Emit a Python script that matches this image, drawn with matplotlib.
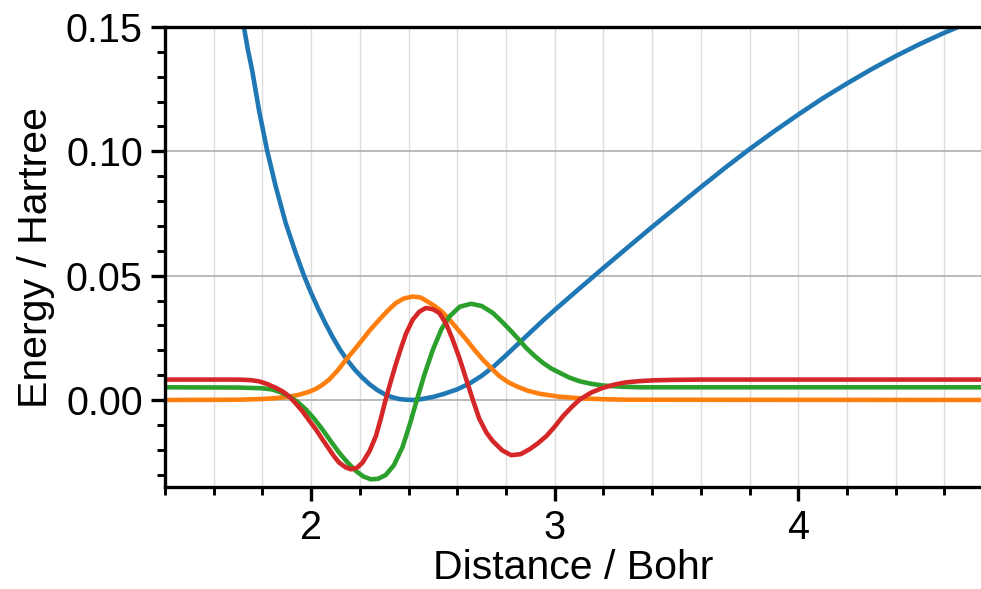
import numpy as np
import matplotlib
matplotlib.use("Agg")
import matplotlib.pyplot as plt
from matplotlib.ticker import MultipleLocator

plt.rcParams["font.family"] = ["Liberation Sans", "DejaVu Sans"]

# ── potential energy curve (Bohr, Hartree) ─────────────────────────────────────
pot_r = [1.700, 1.724, 1.740, 1.758, 1.786, 1.820, 1.855, 1.896, 1.937, 1.971,
         2.000, 2.030, 2.060, 2.090, 2.120, 2.150, 2.180, 2.210, 2.240, 2.270,
         2.300, 2.330, 2.360, 2.390, 2.420, 2.450, 2.500, 2.550, 2.600, 2.650,
         2.700, 2.750, 2.800, 2.850, 2.900, 2.950, 3.000, 3.100, 3.200, 3.300,
         3.400, 3.500, 3.600, 3.700, 3.800, 3.900, 4.000, 4.100, 4.200, 4.300,
         4.400, 4.500, 4.600, 4.700, 4.750]
pot_e = [0.1610, 0.1499, 0.1410, 0.1325, 0.1165, 0.1000, 0.0857, 0.0710, 0.0590, 0.0499,
         0.0430, 0.0365, 0.0305, 0.0250, 0.0200, 0.0158, 0.0121, 0.0090, 0.0063, 0.0041,
         0.0024, 0.0012, 0.0004, 0.0001, 0.0000, 0.0003, 0.0012, 0.0026, 0.0043, 0.0066,
         0.0097, 0.0135, 0.0180, 0.0226, 0.0272, 0.0318, 0.0362, 0.0447, 0.0531, 0.0614,
         0.0696, 0.0776, 0.0856, 0.0934, 0.1009, 0.1080, 0.1148, 0.1213, 0.1273, 0.1330,
         0.1383, 0.1432, 0.1477, 0.1518, 0.1537]

# ── vibrational wavefunctions, offset by level ─────────────────────────────────
v0_r = [1.400, 1.700, 1.800, 1.850, 1.909, 1.950, 1.992, 2.020, 2.045, 2.074,
        2.110, 2.143, 2.180, 2.211, 2.245, 2.280, 2.315, 2.348, 2.380, 2.417,
        2.450, 2.499, 2.535, 2.568, 2.600, 2.637, 2.670, 2.705, 2.740, 2.774,
        2.810, 2.843, 2.890, 2.938, 3.020, 3.103, 3.200, 3.300, 4.750]
v0_psi = [0.0000, 0.0001, 0.0004, 0.0007, 0.0013, 0.0021, 0.0033, 0.0045, 0.0060, 0.0082,
          0.0120, 0.0162, 0.0205, 0.0243, 0.0285, 0.0323, 0.0360, 0.0390, 0.0408, 0.0416,
          0.0412, 0.0383, 0.0357, 0.0323, 0.0286, 0.0243, 0.0202, 0.0162, 0.0127, 0.0095,
          0.0071, 0.0055, 0.0037, 0.0025, 0.0013, 0.0007, 0.0003, 0.0001, 0.0000]

v1_r = [1.400, 1.700, 1.800, 1.841, 1.875, 1.909, 1.944, 1.978, 2.012, 2.046,
        2.080, 2.115, 2.150, 2.183, 2.215, 2.245, 2.275, 2.306, 2.340, 2.375,
        2.405, 2.431, 2.465, 2.499, 2.535, 2.568, 2.610, 2.657, 2.700, 2.746,
        2.780, 2.815, 2.850, 2.883, 2.920, 2.952, 2.985, 3.021, 3.060, 3.103,
        3.150, 3.198, 3.280, 3.360, 4.750]
v1_psi = [0.0051, 0.0050, 0.0047, 0.0042, 0.0031, 0.0015, -0.0008, -0.0038, -0.0075, -0.0118,
          -0.0165, -0.0212, -0.0252, -0.0285, -0.0308, -0.0319, -0.0317, -0.0302, -0.0262, -0.0190,
          -0.0098, -0.0010, 0.0102, 0.0200, 0.0285, 0.0336, 0.0375, 0.0387, 0.0378, 0.0350,
          0.0318, 0.0283, 0.0246, 0.0209, 0.0175, 0.0149, 0.0127, 0.0109, 0.0090, 0.0075,
          0.0065, 0.0058, 0.0053, 0.0051, 0.0051]

v2_r = [1.400, 1.700, 1.750, 1.786, 1.820, 1.855, 1.885, 1.909, 1.935, 1.964,
        1.990, 2.019, 2.046, 2.074, 2.095, 2.115, 2.140, 2.163, 2.188, 2.211,
        2.240, 2.266, 2.286, 2.306, 2.327, 2.348, 2.370, 2.389, 2.417, 2.444,
        2.471, 2.500, 2.526, 2.555, 2.581, 2.610, 2.637, 2.665, 2.690, 2.720,
        2.746, 2.785, 2.821, 2.860, 2.897, 2.930, 2.966, 3.000, 3.034, 3.070,
        3.103, 3.150, 3.198, 3.250, 3.294, 3.350, 3.404, 3.500, 3.600, 4.750]
v2_psi = [0.0082, 0.0082, 0.0080, 0.0075, 0.0064, 0.0049, 0.0033, 0.0015, -0.0012, -0.0045,
          -0.0080, -0.0118, -0.0158, -0.0198, -0.0228, -0.0252, -0.0270, -0.0279, -0.0273, -0.0252,
          -0.0205, -0.0145, -0.0075, 0.0002, 0.0075, 0.0145, 0.0212, 0.0266, 0.0323, 0.0355,
          0.0370, 0.0365, 0.0350, 0.0305, 0.0243, 0.0165, 0.0082, -0.0003, -0.0075, -0.0132,
          -0.0166, -0.0203, -0.0222, -0.0218, -0.0198, -0.0175, -0.0145, -0.0107, -0.0065, -0.0028,
          0.0002, 0.0030, 0.0049, 0.0063, 0.0071, 0.0076, 0.0079, 0.0081, 0.0082, 0.0082]

x_limits = (1.4, 4.75)
y_limits = (-0.035, 0.15)

# ── figure ─────────────────────────────────────────────────────────────────────
fig = plt.figure(figsize=(9.81, 5.89), dpi=100)
ax = fig.add_axes([165 / 981, 1 - 487 / 589, (981 - 165) / 981, (487 - 27) / 589])

lw = 3.3
ax.plot(pot_r, pot_e, color="#1f77b4", lw=lw, solid_joinstyle="round")
ax.plot(v0_r, v0_psi, color="#ff7f0e", lw=lw, solid_joinstyle="round")
ax.plot(v1_r, v1_psi, color="#2ca02c", lw=lw, solid_joinstyle="round")
ax.plot(v2_r, v2_psi, color="#d62728", lw=lw, solid_joinstyle="round")

ax.set_xlim(*x_limits)
ax.set_ylim(*y_limits)

ax.xaxis.set_major_locator(MultipleLocator(1))
ax.xaxis.set_minor_locator(MultipleLocator(0.2))
ax.yaxis.set_major_locator(MultipleLocator(0.05))
ax.yaxis.set_minor_locator(MultipleLocator(0.01))
ax.yaxis.set_major_formatter(plt.FormatStrFormatter("%.2f"))

ax.grid(which="both", axis="x", color="#dcdcdc", lw=1.0)
ax.grid(which="major", axis="y", color="#b4b4b4", lw=1.3)
ax.set_axisbelow(True)

for side in ("left", "bottom", "top"):
    ax.spines[side].set_linewidth(2.4)
ax.spines["right"].set_visible(False)

ax.tick_params(which="major", direction="out", length=10, width=2.4,
               labelsize=28.5, pad=6)
ax.tick_params(which="minor", direction="out", length=6, width=2.1)

ax.set_xlabel("Distance / Bohr", fontsize=29.5, labelpad=1)
ax.set_ylabel("Energy / Hartree", fontsize=29.5, labelpad=8)

fig.savefig("out.png", dpi=100)
